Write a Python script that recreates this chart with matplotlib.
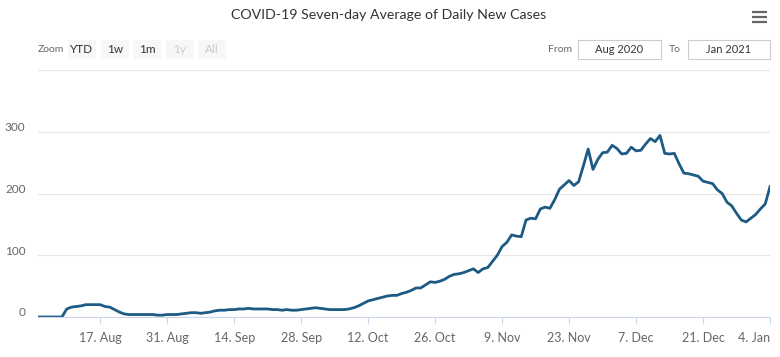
import numpy as np
import matplotlib
matplotlib.use("Agg")
import matplotlib.pyplot as plt
import matplotlib.dates as mdates
from matplotlib.patches import Rectangle
from matplotlib.transforms import ScaledTranslation

plt.rcParams['font.family'] = ['Lato', 'DejaVu Sans']

title = "COVID-19 Seven-day Average of Daily New Cases"
start_date = "2020-08-04"
# seven-day average, one value per day from 4 Aug 2020 to 4 Jan 2021
cases = [
    0, 0, 0, 0, 0, 0, 13, 16, 17, 18,
    20, 20, 20, 20, 17, 16, 12, 8, 5, 4,
    4, 4, 4, 4, 4, 3, 3, 4, 4, 4,
    5, 6, 7, 7, 6, 7, 8, 10, 11, 11,
    12, 12, 13, 13, 14, 13, 13, 13, 13, 12,
    12, 11, 12, 11, 11, 12, 13, 14, 15, 14,
    13, 12, 12, 12, 12, 13, 15, 18, 22, 26,
    28, 30, 32, 34, 35, 35, 38, 40, 43, 47,
    47, 52, 57, 56, 58, 61, 66, 69, 70, 72,
    75, 78, 72, 78, 80, 90, 100, 114, 121, 133,
    131, 130, 157, 160, 159, 175, 178, 176, 190, 207,
    214, 221, 213, 219, 245, 272, 239, 255, 266, 267,
    278, 273, 264, 265, 275, 269, 270, 280, 289, 284,
    294, 265, 264, 265, 248, 233, 232, 230, 228, 220,
    218, 216, 206, 200, 186, 180, 168, 157, 154, 160,
    166, 175, 183, 211,
]
y_ticks = [0, 100, 200, 300, 400]
zoom_buttons = ["YTD", "1w", "1m", "1y", "All"]
zoom_enabled = [True, True, True, False, False]
range_from = "Aug 2020"
range_to = "Jan 2021"

dates = np.datetime64(start_date) + np.arange(len(cases))
x_ticks = np.arange(np.datetime64("2020-08-17"), dates[-1] + 1, 14)

W, H = 780, 357
fig = plt.figure(figsize=(W / 100, H / 100), dpi=100)
ax = fig.add_axes([38 / W, 1 - 317 / H, 732 / W, 247 / H])

ax.plot(dates, cases, color="#1d5a84", lw=2.0, solid_joinstyle="round")
ax.set_xlim(dates[0], dates[-1])
ax.set_ylim(0, 400)

ax.set_yticks(y_ticks)
ax.set_yticklabels([str(v) if v < 400 else "" for v in y_ticks])
ax.grid(axis="y", color="#e6e6e6", lw=0.8)
ax.tick_params(axis="y", length=0, pad=9, labelsize=8.5, labelcolor="#666666")
for lab in ax.get_yticklabels():
    lab.set_transform(lab.get_transform() + ScaledTranslation(0, 5 / 100, fig.dpi_scale_trans))

ax.set_xticks(x_ticks.astype("datetime64[D]").astype(object))
ax.xaxis.set_major_formatter(plt.FuncFormatter(
    lambda v, p: "%d. %s" % (mdates.num2date(v).day, mdates.num2date(v).strftime("%b"))))
ax.tick_params(axis="x", length=5, width=0.8, color="#ccd6eb", pad=6,
               labelsize=9, labelcolor="#666666")
# keep the last date label inside the chart, as the original does
ax.get_xticklabels()[-1].set_ha("right")

for s in ["top", "right", "left"]:
    ax.spines[s].set_visible(False)
ax.spines["bottom"].set_color("#ccd6eb")
ax.spines["bottom"].set_linewidth(0.8)

# overlay in pixel coordinates for title, range selector and menu icon
ov = fig.add_axes([0, 0, 1, 1], facecolor="none")
ov.set_xlim(0, W)
ov.set_ylim(H, 0)
ov.axis("off")

ov.text(389, 15, title, ha="center", va="center", fontsize=10.2, color="#333333")

for i in range(3):
    ov.plot([752, 767], [12 + 5 * i, 12 + 5 * i], color="#666666", lw=1.6,
            solid_capstyle="butt")

ov.text(38, 49.5, "Zoom", ha="left", va="center", fontsize=7.5, color="#666666")
bx = [68, 101, 133, 166, 198]
for x0, label, on in zip(bx, zoom_buttons, zoom_enabled):
    ov.add_patch(Rectangle((x0, 40), 28, 19, facecolor="#f7f7f7", edgecolor="none"))
    ov.text(x0 + 14, 49.5, label, ha="center", va="center", fontsize=8.5,
            color="#333333" if on else "#cccccc")

ov.text(572, 49.5, "From", ha="right", va="center", fontsize=7.5, color="#666666")
ov.add_patch(Rectangle((578, 40), 83, 19, facecolor="white", edgecolor="#cccccc", lw=0.8))
ov.text(619.5, 49.5, range_from, ha="center", va="center", fontsize=8, color="#333333")
ov.text(681, 49.5, "To", ha="right", va="center", fontsize=7.5, color="#666666")
ov.add_patch(Rectangle((688, 40), 82, 19, facecolor="white", edgecolor="#cccccc", lw=0.8))
ov.text(729, 49.5, range_to, ha="center", va="center", fontsize=8, color="#333333")

fig.savefig("out.png", dpi=100)
